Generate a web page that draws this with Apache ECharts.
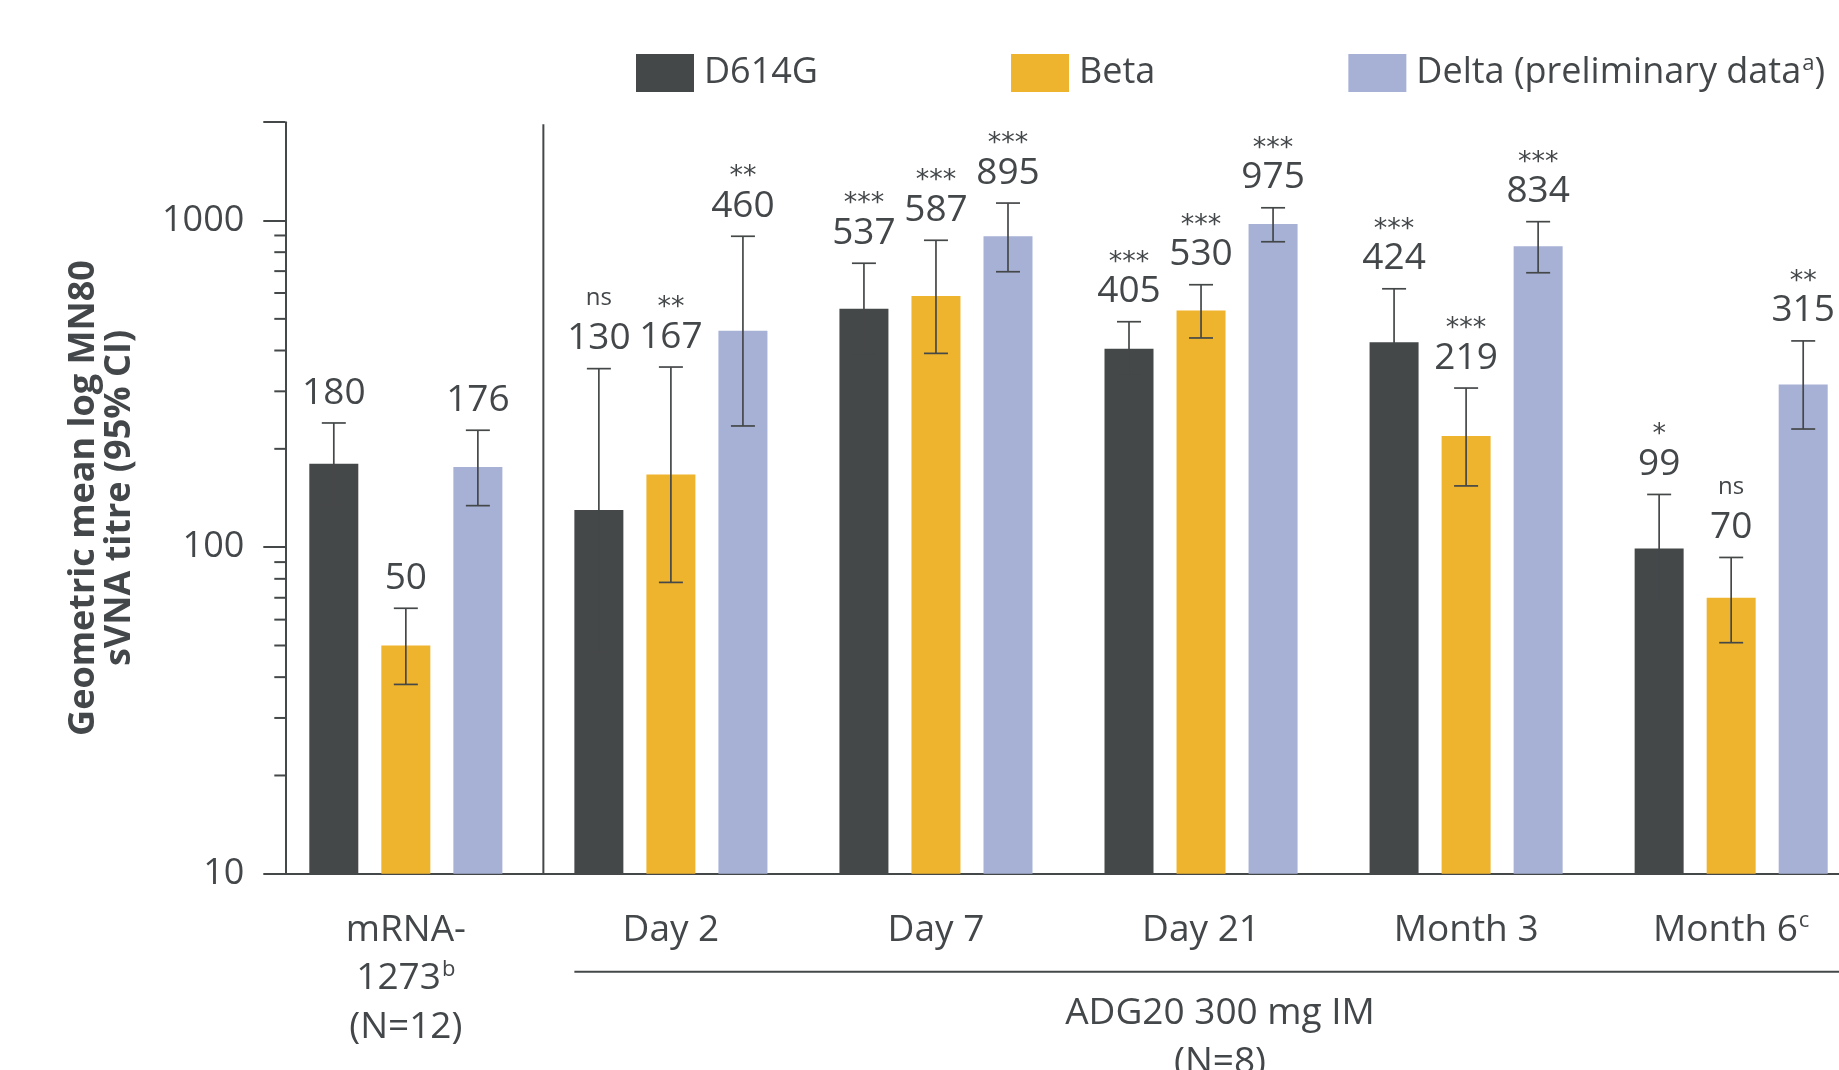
<!DOCTYPE html>
<html>
<head>
<meta charset="utf-8">
<script src="https://cdn.jsdelivr.net/npm/echarts@6/dist/echarts.min.js"></script>
<style>html,body{margin:0;padding:0;background:#fff}#c{width:1839px;height:1070px}</style>
</head>
<body>
<div id="c"></div>
<script>
// ---------- data ----------
const categoryLabels = ['mRNA-\n1273{sup|b}\n(N=12)', 'Day 2', 'Day 7', 'Day 21', 'Month 3', 'Month 6{sup|c}'];
const seriesNames = ['D614G', 'Beta', 'Delta'];
const d614gValues = [180, 130, 537, 405, 424, 99];
const d614gLower  = [134, 48, 390, 335, 291, 68];
const d614gUpper  = [240, 352, 740, 490, 618, 145];
const betaValues  = [50, 167, 587, 530, 219, 70];
const betaLower   = [38, 78, 392, 437, 154, 51];
const betaUpper   = [65, 356, 870, 636, 307, 93];
const deltaValues = [176, 460, 895, 975, 834, 315];
const deltaLower  = [134, 235, 697, 861, 692, 230];
const deltaUpper  = [228, 895, 1131, 1094, 992, 428];
const d614gSig = ['', 'ns', '***', '***', '***', '*'];
const betaSig  = ['', '**', '***', '***', '***', 'ns'];
const deltaSig = ['', '**', '***', '***', '***', '**'];
const yTickLabels = [10, 100, 1000];
const yMinorTicks = [20, 30, 40, 50, 60, 70, 80, 90, 200, 300, 400, 500, 600, 700, 800, 900];
const yMin = 10, yMax = 2000;

// ---------- style ----------
const TXT = '#434749';
const FONT = 'Open Sans';
const COLORS = ['#454849', '#EFB42D', '#A6B1D5'];
const BAR_W = 49, BAR_GAP = 0.47;
const STEP = BAR_W * (1 + BAR_GAP);
const Y_SHIFT = 12;
const supStyle = { fontSize: 22, fontFamily: FONT, color: TXT, padding: [0, 0, 18, 1] };

const chart = echarts.init(document.getElementById('c'));

function errSeries(idx, vals, lo, hi, sig) {
  return {
    type: 'custom',
    z: 5,
    data: vals.map((v, i) => [i, v, lo[i], hi[i]]),
    renderItem: function (params, api) {
      const i = params.dataIndex;
      const ci = api.value(0);
      const x = api.coord([ci, api.value(1)])[0] + (idx - 1) * STEP;
      const yLo = api.coord([ci, api.value(2)])[1];
      const yHi = api.coord([ci, api.value(3)])[1];
      const ls = { stroke: '#454849', lineWidth: 1.7 };
      const children = [
        { type: 'line', shape: { x1: x, y1: yLo, x2: x, y2: yHi }, style: ls },
        { type: 'line', shape: { x1: x - 12, y1: yHi, x2: x + 12, y2: yHi }, style: ls },
        { type: 'line', shape: { x1: x - 12, y1: yLo, x2: x + 12, y2: yLo }, style: ls },
        { type: 'text', x: x, y: yHi - 30, style: { text: String(vals[i]), fontSize: 37, fontFamily: FONT, fill: TXT, align: 'center', verticalAlign: 'middle' } }
      ];
      const s = sig[i];
      if (s) {
        const isStar = s.indexOf('*') >= 0;
        children.push({
          type: 'text', x: x, y: isStar ? yHi - 59 : yHi - 70,
          style: { text: s, fontSize: isStar ? 27 : 24, fontFamily: isStar ? 'DejaVu Sans' : FONT, fill: TXT, align: 'center', verticalAlign: 'middle' }
        });
      }
      return { type: 'group', children: children };
    }
  };
}

const barData = [d614gValues, betaValues, deltaValues];
const option = {
  animation: false,
  backgroundColor: '#fff',
  textStyle: { fontFamily: FONT, color: TXT },
  legend: {
    top: 53, left: 636, padding: 0,
    itemWidth: 58, itemHeight: 38, itemGap: 193,
    icon: 'rect',
    data: seriesNames,
    formatter: n => n === 'Delta' ? 'Delta (preliminary data{sup|a})' : n,
    textStyle: { fontSize: 36, fontFamily: FONT, color: TXT, padding: [0, 0, 0, 5], rich: { sup: supStyle } }
  },
  grid: { left: 273.3, top: 122.2, width: 1590.4, height: 751.6, containLabel: false, outerBoundsMode: 'none' },
  xAxis: {
    type: 'category',
    data: categoryLabels,
    axisLine: { lineStyle: { color: '#444849', width: 2 } },
    axisTick: { alignWithLabel: true, length: 26, lineStyle: { color: '#444849', width: 2 } },
    axisLabel: { interval: 0, margin: 32, fontSize: 37, lineHeight: 48.5, fontFamily: FONT, color: TXT, hideOverlap: false, rich: { sup: Object.assign({}, supStyle, { lineHeight: 48.5 }) } }
  },
  yAxis: {
    type: 'log', logBase: 10, min: yMin, max: yMax,
    offset: -Y_SHIFT,
    name: 'Geometric mean log MN80\nsVNA titre (95% CI)',
    nameLocation: 'middle', nameGap: 148, nameRotate: 90,
    nameTextStyle: { fontSize: 36, fontWeight: 'bold', fontFamily: FONT, color: TXT, lineHeight: 36 },
    axisLine: { show: true, lineStyle: { color: '#444849', width: 2 } },
    axisTick: { show: true, length: 22, lineStyle: { color: '#444849', width: 2 } },
    axisLabel: {
      margin: 41, fontSize: 36, fontFamily: FONT, color: TXT,
      formatter: v => yTickLabels.includes(Math.round(v)) ? String(Math.round(v)) : ''
    },
    splitLine: { show: false }
  },
  series: [
    ...seriesNames.map((n, k) => ({
      name: n, type: 'bar', barWidth: BAR_W, barGap: (BAR_GAP * 100) + '%',
      itemStyle: { color: COLORS[k] }, data: barData[k], z: 2
    })),
    errSeries(0, d614gValues, d614gLower, d614gUpper, d614gSig),
    errSeries(1, betaValues, betaLower, betaUpper, betaSig),
    errSeries(2, deltaValues, deltaLower, deltaUpper, deltaSig),
    {
      type: 'custom', z: 5,
      data: yMinorTicks.map(v => [0, v]),
      renderItem: function (params, api) {
        const x0 = params.coordSys.x + Y_SHIFT;
        const y = api.coord([0, api.value(1)])[1];
        return { type: 'line', shape: { x1: x0 - 11, y1: y, x2: x0, y2: y }, style: { stroke: '#444849', lineWidth: 2 } };
      }
    }
  ]
};
chart.setOption(option);

// annotations positioned from the axes
const c0 = chart.convertToPixel({ xAxisIndex: 0 }, 0);
const c1 = chart.convertToPixel({ xAxisIndex: 0 }, 1);
const c5 = chart.convertToPixel({ xAxisIndex: 0 }, 5);
const yTop = chart.convertToPixel({ yAxisIndex: 0 }, yMax);
const yBot = chart.convertToPixel({ yAxisIndex: 0 }, yMin);
const sepX = (c0 + c1) / 2 + 5;
const bracketY = yBot + 98;
chart.setOption({
  graphic: [
    { type: 'line', shape: { x1: sepX, y1: yTop + 2, x2: sepX, y2: yBot }, style: { stroke: '#444849', lineWidth: 2 } },
    { type: 'line', shape: { x1: c1 - STEP - BAR_W / 2, y1: bracketY, x2: 1839, y2: bracketY }, style: { stroke: '#444849', lineWidth: 2 } },
    { type: 'text', x: (c1 + c5) / 2 + 19, y: bracketY + 66, style: { text: 'ADG20 300 mg IM\n(N=8)', fontSize: 37, lineHeight: 49, fontFamily: FONT, fill: TXT, align: 'center', verticalAlign: 'middle' } }
  ]
});
</script>
</body>
</html>
